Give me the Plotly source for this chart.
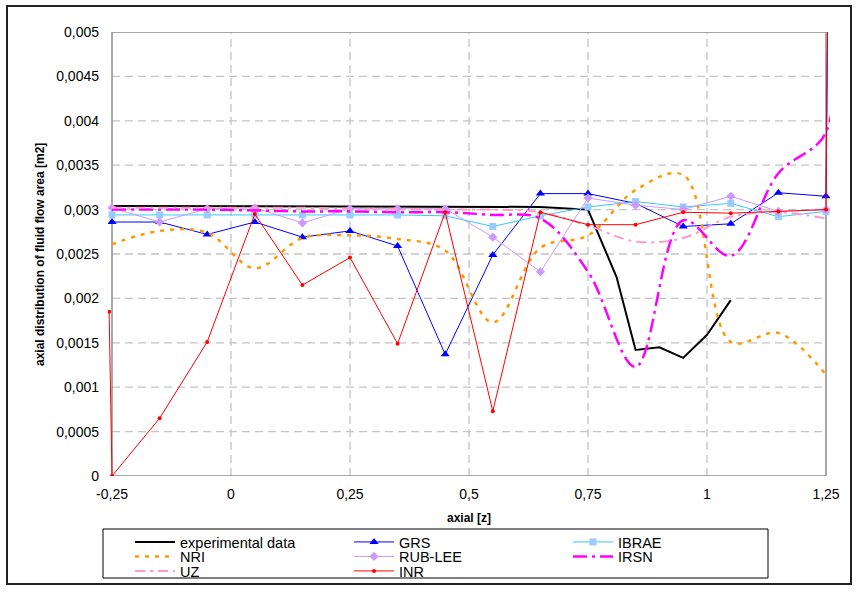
import plotly.graph_objects as go

# ---------------- data ----------------
z = [-0.25, -0.15, -0.05, 0.05, 0.15, 0.25, 0.35, 0.45, 0.55, 0.65, 0.75, 0.85, 0.95, 1.05, 1.15, 1.25]
z_edge = [-0.256, -0.25, -0.15, -0.05, 0.05, 0.15, 0.25, 0.35, 0.45, 0.55, 0.65, 0.75, 0.85, 0.95, 1.05, 1.15, 1.25, 1.254]
z_end = [-0.25, -0.15, -0.05, 0.05, 0.15, 0.25, 0.35, 0.45, 0.55, 0.65, 0.75, 0.85, 0.95, 1.05, 1.15, 1.25, 1.254]

z_exp = [-0.25, 0.65, 0.75, 0.81, 0.85, 0.9, 0.95, 1.0, 1.05]
exp_data = [0.00304, 0.00303, 0.00300, 0.00224, 0.00142, 0.00145, 0.00133, 0.00159, 0.00198]

grs = [0.00286, 0.00286, 0.00272, 0.00286, 0.00269, 0.00276, 0.00259, 0.00137, 0.00249,
       0.00318, 0.00318, 0.00307, 0.00281, 0.00284, 0.00319, 0.00315, 0.0055]
ibrae = [0.00294, 0.00294, 0.00294, 0.00294, 0.00294, 0.00294, 0.00294, 0.00293, 0.00281,
         0.00293, 0.00303, 0.00309, 0.00303, 0.00307, 0.00292, 0.00298]
nri = [0.00261, 0.00276, 0.00274, 0.00234, 0.00268, 0.00271, 0.00267, 0.00254, 0.00173,
       0.00257, 0.00271, 0.00322, 0.00339, 0.00151, 0.00161, 0.00114]
rub_lee = [0.00302, 0.00286, 0.00301, 0.00302, 0.00285, 0.00301, 0.00301, 0.00301, 0.00269,
           0.00230, 0.00313, 0.00305, 0.00300, 0.00315, 0.00298, 0.00300]
irsn = [0.00300, 0.00300, 0.00300, 0.00299, 0.00298, 0.00298, 0.00297, 0.00297, 0.00294,
        0.00290, 0.00230, 0.00123, 0.00288, 0.00248, 0.00341, 0.00387, 0.0055]
uz = [0.00302, 0.00302, 0.00302, 0.00302, 0.00302, 0.00301, 0.00301, 0.00300, 0.00300,
      0.00297, 0.00282, 0.00264, 0.00268, 0.00292, 0.00297, 0.00290]
inr = [0.00185, 0.0, 0.00065, 0.00151, 0.00295, 0.00215, 0.00246, 0.00149, 0.00297, 0.00073,
       0.00297, 0.00283, 0.00283, 0.00297, 0.00296, 0.00298, 0.00300, 0.0055]

x_ticks = [-0.25, 0, 0.25, 0.5, 0.75, 1, 1.25]
x_ticktext = ["-0,25", "0", "0,25", "0,5", "0,75", "1", "1,25"]
y_ticks = [0, 0.0005, 0.001, 0.0015, 0.002, 0.0025, 0.003, 0.0035, 0.004, 0.0045, 0.005]
y_ticktext = ["0", "0,0005", "0,001", "0,0015", "0,002", "0,0025", "0,003", "0,0035", "0,004", "0,0045", "0,005"]

FONT = "Liberation Sans, Arial, sans-serif"

fig = go.Figure()

fig.add_trace(go.Scatter(x=z_exp, y=exp_data, name="experimental data", mode="lines", legend="legend",
                         line=dict(color="#000000", width=2)))
fig.add_trace(go.Scatter(x=z_end, y=grs, name="GRS", mode="lines+markers", legend="legend",
                         line=dict(color="#0000FF", width=1),
                         marker=dict(symbol="triangle-up", size=8, color="#0000FF")))
fig.add_trace(go.Scatter(x=z, y=ibrae, name="IBRAE", mode="lines+markers", legend="legend",
                         line=dict(color="#33CCFF", width=1),
                         marker=dict(symbol="square", size=7, color="#99CCFF")))
fig.add_trace(go.Scatter(x=z, y=nri, name="NRI", mode="lines", legend="legend2",
                         line=dict(color="#FF9900", width=2.5, dash="4px,6px", shape="spline")))
fig.add_trace(go.Scatter(x=z, y=rub_lee, name="RUB-LEE", mode="lines+markers", legend="legend2",
                         line=dict(color="#CC99FF", width=1),
                         marker=dict(symbol="diamond", size=7, color="#CC99FF")))
fig.add_trace(go.Scatter(x=z_end, y=irsn, name="IRSN", mode="lines", legend="legend2",
                         line=dict(color="#FF00FF", width=2.5, dash="14px,5px,3px,5px", shape="spline")))
fig.add_trace(go.Scatter(x=z, y=uz, name="UZ", mode="lines", legend="legend3",
                         line=dict(color="#FF99CC", width=2, dash="10px,5px,3px,5px", shape="spline")))
fig.add_trace(go.Scatter(x=z_edge, y=inr, name="INR", mode="lines+markers", legend="legend3",
                         line=dict(color="#FF0000", width=1),
                         marker=dict(symbol="circle", size=4, color="#FF0000")))

# geometry helpers (pixel layout of the reference)
L, R, T, B = 108, 26, 32, 116
W = 856 - L - R
H = 592 - T - B


def px(xp):
    return (xp - L) / W


def py(yp):
    return (592 - B - yp) / H


shapes = []
for yv in y_ticks[1:-1]:
    shapes.append(dict(type="line", xref="x", yref="y", x0=-0.25, x1=1.25, y0=yv, y1=yv,
                       line=dict(color="#C4C4C4", width=1.3, dash="8px,5px"), layer="below"))
for xv in x_ticks[1:-1]:
    shapes.append(dict(type="line", xref="x", yref="y", x0=xv, x1=xv, y0=0, y1=0.005,
                       line=dict(color="#C4C4C4", width=1.3, dash="8px,5px"), layer="below"))
shapes.append(dict(type="rect", xref="x", yref="y", x0=-0.25, x1=1.25, y0=0, y1=0.005,
                   line=dict(color="#8C8C8C", width=1.5), layer="below"))
shapes.append(dict(type="rect", xref="paper", yref="paper", x0=px(7), x1=px(851), y0=py(584), y1=py(6),
                   line=dict(color="#222222", width=2)))
shapes.append(dict(type="rect", xref="paper", yref="paper", x0=px(103), x1=px(768), y0=py(578), y1=py(529),
                   line=dict(color="#000000", width=1)))


def legend_row(ypix):
    return dict(orientation="h", x=px(130), y=py(ypix), xanchor="left", yanchor="middle",
                entrywidth=164, entrywidthmode="pixels", bgcolor="rgba(0,0,0,0)",
                font=dict(family=FONT, size=14.5), itemwidth=40, tracegroupgap=0, borderwidth=0)


fig.update_layout(
    width=856, height=592,
    margin=dict(l=L, r=R, t=T, b=B, autoexpand=False),
    paper_bgcolor="white", plot_bgcolor="white",
    font=dict(family=FONT, color="#000000", size=14),
    shapes=shapes,
    showlegend=True,
    legend=legend_row(542),
    legend2=legend_row(556.5),
    legend3=legend_row(571),
    annotations=[
        dict(text="<b>axial [z]</b>", xref="paper", yref="paper", x=px(469), y=py(518),
             showarrow=False, font=dict(size=12, family=FONT), xanchor="center", yanchor="middle"),
        dict(text="<b>axial distribution of fluid flow area [m2]</b>", xref="paper", yref="paper",
             x=px(40), y=py(255), textangle=-90, showarrow=False,
             font=dict(size=12, family=FONT), xanchor="center", yanchor="middle"),
    ],
)
fig.update_xaxes(range=[-0.2584, 1.2584], tickvals=x_ticks, ticktext=x_ticktext,
                 showgrid=False, zeroline=False, showline=False, ticks="",
                 tickfont=dict(size=14, family=FONT), ticklabelstandoff=8)
fig.update_yaxes(range=[0, 0.005], tickvals=y_ticks, ticktext=y_ticktext,
                 showgrid=False, zeroline=False, showline=False, ticks="",
                 tickfont=dict(size=14, family=FONT), ticklabelstandoff=8)

fig.write_html("out.html")
